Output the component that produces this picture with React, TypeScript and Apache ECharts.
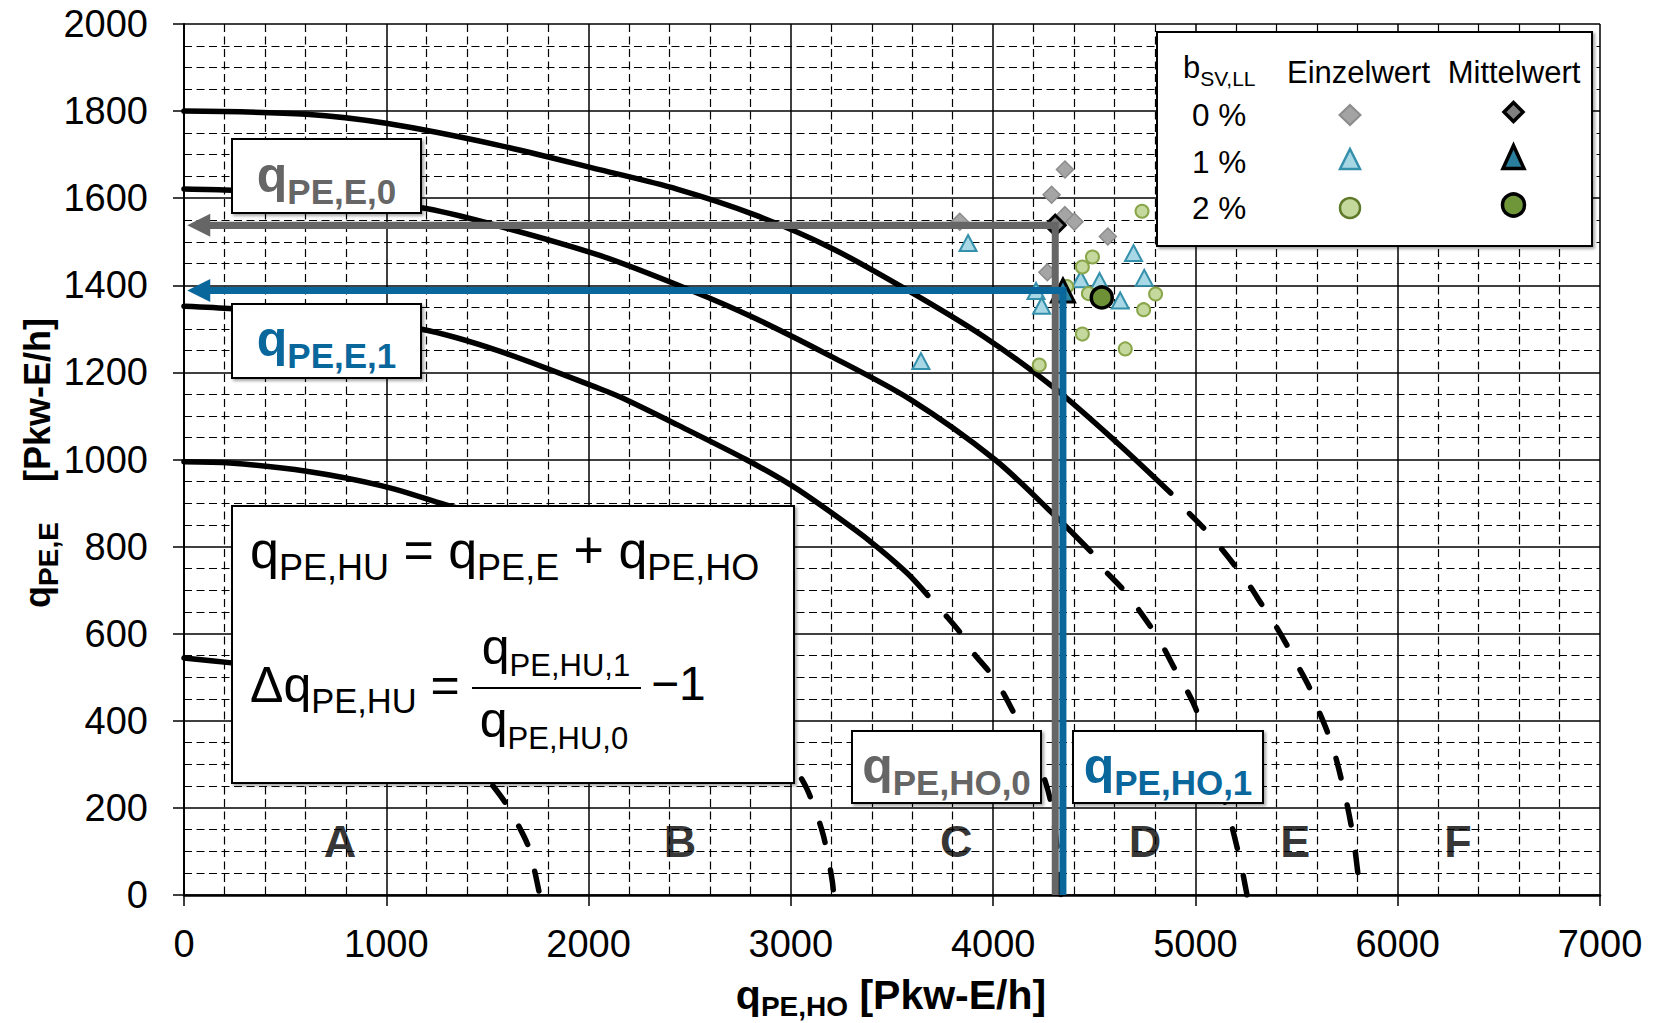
import React, { useEffect, useRef } from "react";
import * as echarts from "echarts";

// ---------------- data ----------------
const xRange = [0, 7000];
const yRange = [0, 2000];
const xTickStep = 1000;
const yTickStep = 200;

// boundary curves between the quality levels (solid part, dashed continuation)
const curveEF_solid = [[0,1800],[605,1793],[1000,1772],[1552,1722],[2059,1665],[2437,1621],[2815,1563],[3194,1487],[3572,1390],[3951,1283],[4300,1165],[4614,1038],[4878,923]];
const curveEF_dashed = [[4878,923],[4960,881],[5040,843],[5118,801],[5197,755],[5264,713],[5328,667],[5393,621],[5451,575],[5508,525],[5565,475],[5608,425],[5652,375],[5690,322],[5720,268],[5745,218],[5771,157],[5788,107],[5803,50],[5815,0]];
const curveDE_solid = [[0,1621],[240,1618],[700,1603],[1174,1578],[1500,1543],[2059,1468],[2513,1387],[2815,1326],[3194,1238],[3590,1138],[4008,1000],[4292,877],[4482,789]];
const curveDE_dashed = [[4482,789],[4549,747],[4636,705],[4707,663],[4777,617],[4839,571],[4891,525],[4952,475],[5004,425],[5090,300],[5174,168],[5205,111],[5232,55],[5255,0]];
const curveCD_solid = [[0,1352],[240,1346],[700,1325],[1174,1299],[1552,1250],[2059,1162],[2173,1140],[2437,1080],[2778,1000],[3005,940],[3194,880],[3384,815],[3573,740],[3677,688]];
const curveCD_dashed = [[3677,688],[3762,644],[3838,602],[3904,555],[3980,513],[4046,467],[4099,421],[4180,350],[4240,285],[4283,218],[4308,140],[4325,70],[4335,0]];
const curveBC_solid = [[0,995],[227,992],[606,973],[984,939],[1287,897],[1530,862],[1810,797],[2060,737],[2370,652],[2650,546],[2730,505]];
const curveBC_dashed = [[2730,505],[2850,447],[2950,372],[3020,295],[3080,243],[3123,192],[3160,138],[3185,84],[3205,31],[3212,0]];
const curveAB_solid = [[0,544],[236,533],[480,522],[840,472],[1130,403],[1300,355],[1440,300]];
const curveAB_dashed = [[1440,300],[1505,264],[1590,211],[1647,165],[1703,111],[1732,58],[1755,8],[1758,0]];

// single values (Einzelwert) and means (Mittelwert) for b_SV,LL = 0 %, 1 %, 2 %
const einzel0 = [[3835,1546],[4289,1608],[4355,1666],[4355,1561],[4402,1546],[4567,1512],[4268,1430]];
const einzel1 = [[3876,1497],[3643,1226],[4694,1474],[4747,1417],[4433,1414],[4526,1410],[4628,1365],[4212,1387],[4240,1353]];
const einzel2 = [[4736,1570],[4491,1465],[4441,1442],[4364,1397],[4471,1381],[4803,1380],[4744,1344],[4441,1288],[4653,1254],[4228,1217]];
const mittel0 = [4307, 1538];
const mittel1 = [4345, 1388];
const mittel2 = [4537, 1372];
const arrowEndX = 73;

const regionLetters = ["A", "B", "C", "D", "E", "F"];
const regionLetterX = [771, 2452, 3818, 4751, 5493, 6298];
const regionLetterY = 123;

const legendRows = ["0 %", "1 %", "2 %"];

// ---------------- styling ----------------
const FONT = '"Liberation Sans", Arial, Helvetica, sans-serif';
const GRAY = "#666666";
const BLUE = "#0A679C";
const DASH = [20, 28];
const CB = 0.3465; // central -> alphabetic baseline (em)

// main token aligned to line top, subscript token aligned to line bottom
function richSpec(mainFs: number, subFs: number, drop: number, weight: string, color: string) {
  const baseFromTop = mainFs / 2 + CB * mainFs;
  const LH = baseFromTop + drop + subFs / 2 - CB * subFs;
  return {
    baseFromTop,
    rich: {
      m: { fontSize: mainFs, lineHeight: LH, verticalAlign: "top", fontWeight: weight, fontFamily: FONT, fill: color, color },
      s: { fontSize: subFs, lineHeight: subFs, verticalAlign: "bottom", fontWeight: weight, fontFamily: FONT, fill: color, color },
    },
  };
}

function richText(x: number, baseline: number, text: string, spec: any, align: string, z = 101) {
  return {
    type: "text",
    x,
    y: baseline - spec.baseFromTop,
    z,
    style: { text, rich: spec.rich, align, verticalAlign: "top", textAlign: align, textVerticalAlign: "top" },
  };
}

function plainText(x: number, baseline: number, text: string, fs: number, align: string, weight = "normal", color = "#000", z = 101) {
  return {
    type: "text",
    x,
    y: baseline - CB * fs,
    z,
    style: {
      text, fontSize: fs, fontFamily: FONT, fontWeight: weight, fill: color,
      align, verticalAlign: "middle", textAlign: align, textVerticalAlign: "middle",
    },
  };
}

function box(x: number, y: number, w: number, h: number) {
  return {
    type: "rect", z: 100,
    shape: { x, y, width: w, height: h },
    style: { fill: "#fff", stroke: "#000", lineWidth: 2, shadowBlur: 3, shadowOffsetX: 2, shadowOffsetY: 2, shadowColor: "rgba(0,0,0,0.35)" },
  };
}

function diamond(cx: number, cy: number, w: number, h: number, fill: string, stroke: string, lw: number) {
  return { type: "polygon", z: 102, shape: { points: [[cx, cy - h / 2], [cx + w / 2, cy], [cx, cy + h / 2], [cx - w / 2, cy]] }, style: { fill, stroke, lineWidth: lw } };
}
function triangle(cx: number, cy: number, w: number, h: number, fill: string, stroke: string, lw: number) {
  return { type: "polygon", z: 102, shape: { points: [[cx, cy - h / 2], [cx + w / 2, cy + h / 2], [cx - w / 2, cy + h / 2]] }, style: { fill, stroke, lineWidth: lw } };
}
function circle(cx: number, cy: number, r: number, fill: string, stroke: string, lw: number) {
  return { type: "circle", z: 102, shape: { cx, cy, r }, style: { fill, stroke, lineWidth: lw } };
}

function curveSeries(data: number[][], dashed: boolean) {
  return {
    type: "line", data, symbol: "none", showSymbol: false, smooth: 0.3, silent: true, z: 2,
    lineStyle: { color: "#000", width: 5.5, type: dashed ? DASH : "solid", cap: "round", dashOffset: dashed ? 20 : 0 },
  };
}

function meanLineSeries(mean: number[], color: string) {
  return {
    type: "line", silent: true, z: 5, symbol: "none", showSymbol: false,
    data: [[arrowEndX, mean[1]], mean, [mean[0], 0]],
    lineStyle: { color, width: 7, join: "miter", cap: "butt" },
    markLine: {
      silent: true, symbol: ["none", "triangle"], symbolSize: 23,
      label: { show: false },
      lineStyle: { color, width: 7, type: "solid" },
      data: [[{ coord: mean }, { coord: [arrowEndX, mean[1]] }]],
    },
  };
}

export default function App() {
  const ref = useRef<HTMLDivElement>(null);
  useEffect(() => {
    document.body.style.margin = "0";
    document.body.style.overflow = "hidden";
    const chart = echarts.init(ref.current!, null, { renderer: "svg" });

    const option: any = {
      animation: false,
      textStyle: { fontFamily: FONT },
      grid: { left: 184, right: 55, top: 24, bottom: 128, containLabel: false },
      legend: { show: false },
      xAxis: {
        type: "value", min: xRange[0], max: xRange[1], interval: xTickStep,
        axisLine: { show: true, onZero: false, lineStyle: { color: "#000", width: 2.5 } },
        axisTick: { show: true, inside: false, length: 11, lineStyle: { color: "#000", width: 1.5 } },
        axisLabel: { fontSize: 38, color: "#000", margin: 30, fontFamily: FONT, formatter: (v: number) => String(v) },
        splitLine: { show: true, lineStyle: { color: "#000", width: 1.5 } },
        minorTick: { show: false, splitNumber: 5 },
        minorSplitLine: { show: true, lineStyle: { color: "#000", width: 1.2, type: [8, 4.5] } },
      },
      yAxis: {
        type: "value", min: yRange[0], max: yRange[1], interval: yTickStep,
        axisLine: { show: true, onZero: false, lineStyle: { color: "#000", width: 2 } },
        axisTick: { show: true, inside: false, length: 11, lineStyle: { color: "#000", width: 1.5 } },
        axisLabel: { fontSize: 38, color: "#000", margin: 36, fontFamily: FONT, formatter: (v: number) => String(v) },
        splitLine: { show: true, lineStyle: { color: "#000", width: 1.5 } },
        minorTick: { show: false, splitNumber: 4 },
        minorSplitLine: { show: true, lineStyle: { color: "#000", width: 1.2, type: [8, 4.5] } },
      },
      series: [
        curveSeries(curveEF_solid, false), curveSeries(curveEF_dashed, true),
        curveSeries(curveDE_solid, false), curveSeries(curveDE_dashed, true),
        curveSeries(curveCD_solid, false), curveSeries(curveCD_dashed, true),
        curveSeries(curveBC_solid, false), curveSeries(curveBC_dashed, true),
        curveSeries(curveAB_solid, false), curveSeries(curveAB_dashed, true),
        { name: "0 % Einzelwert", type: "scatter", z: 3, data: einzel0, symbol: "diamond", symbolSize: 17,
          itemStyle: { color: "#A5A5A5", borderColor: "#8C8C8C", borderWidth: 1.5, opacity: 1 } },
        { name: "1 % Einzelwert", type: "scatter", z: 3, data: einzel1, symbol: "triangle", symbolSize: [17, 16],
          itemStyle: { color: "#A8D8E5", borderColor: "#3590AC", borderWidth: 2, opacity: 1 } },
        { name: "2 % Einzelwert", type: "scatter", z: 3, data: einzel2, symbol: "circle", symbolSize: 13,
          itemStyle: { color: "#C5D99E", borderColor: "#8AA64A", borderWidth: 2, opacity: 1 } },
        { name: "0 % Mittelwert", type: "scatter", z: 4, data: [mittel0], symbol: "diamond", symbolSize: 20,
          itemStyle: { color: "#808080", borderColor: "#000", borderWidth: 3, opacity: 1 } },
        { name: "1 % Mittelwert", type: "scatter", z: 4, data: [mittel1], symbol: "triangle", symbolSize: 23,
          itemStyle: { color: "#2D86A3", borderColor: "#000", borderWidth: 3, opacity: 1 } },
        { name: "2 % Mittelwert", type: "scatter", z: 4, data: [mittel2], symbol: "circle", symbolSize: 21,
          itemStyle: { color: "#6E9138", borderColor: "#000", borderWidth: 3.5, opacity: 1 } },
        meanLineSeries(mittel0, GRAY),
        meanLineSeries(mittel1, BLUE),
        { type: "scatter", z: 6, silent: true, symbolSize: 0,
          data: regionLetters.map((n, i) => ({ name: n, value: [regionLetterX[i], regionLetterY] })),
          label: { show: true, position: "inside", formatter: "{b}", fontSize: 45, fontWeight: "bold", color: "#000", fontFamily: FONT } },
      ],
    };
    chart.setOption(option);

    // ----- annotations -----
    const els: any[] = [];
    const grayLbl = richSpec(50, 35, 12, "bold", GRAY);
    const blueLbl = richSpec(50, 35, 12, "bold", BLUE);
    els.push(box(232, 139, 189, 74), richText(326.5, 192, "{m|q}{s|PE,E,0}", grayLbl, "center"));
    els.push(box(232, 304, 189, 74), richText(326.5, 356, "{m|q}{s|PE,E,1}", blueLbl, "center"));
    els.push(box(852, 731, 189, 72), richText(946.5, 783, "{m|q}{s|PE,HO,0}", grayLbl, "center"));
    els.push(box(1073, 731, 190, 72), richText(1168, 783, "{m|q}{s|PE,HO,1}", blueLbl, "center"));

    // formula box
    els.push(box(232, 506, 562, 277));
    const f0 = richSpec(52, 36, 11, "normal", "#000");
    els.push(richText(250, 568.5, "{m|q}{s|PE,HU}{m| = q}{s|PE,E}{m| + q}{s|PE,HO}", f0, "left"));
    const f1 = richSpec(50, 34.5, 11, "normal", "#000");
    els.push(richText(250, 702, "{m|Δq}{s|PE,HU}{m| =}", f1, "left"));
    const f2 = richSpec(50, 31, 12, "normal", "#000");
    els.push(richText(556, 664.5, "{m|q}{s|PE,HU,1}", f2, "center"));
    els.push(richText(554, 737.5, "{m|q}{s|PE,HU,0}", f2, "center"));
    els.push({ type: "line", z: 101, shape: { x1: 472, y1: 688, x2: 641, y2: 688 }, style: { stroke: "#000", lineWidth: 2 } });
    els.push(plainText(651, 700, "−1", 48, "left"));

    // legend
    els.push({ type: "rect", z: 100, shape: { x: 1157, y: 32, width: 435, height: 214 }, style: { fill: "#fff", stroke: "#000", lineWidth: 2, shadowBlur: 3, shadowOffsetX: 2, shadowOffsetY: 2, shadowColor: "rgba(0,0,0,0.35)" } });
    els.push(richText(1183, 78, "{m|b}{s|SV,LL}", richSpec(31, 21, 8, "normal", "#000"), "left"));
    els.push(plainText(1358.5, 83, "Einzelwert", 31, "center"));
    els.push(plainText(1514, 83, "Mittelwert", 31, "center"));
    const rowBase = [126, 173, 219];
    legendRows.forEach((t, i) => els.push(plainText(1192, rowBase[i], t, 31.5, "left")));
    els.push(diamond(1350, 115, 21, 20, "#A3A3A3", "#8C8C8C", 2));
    els.push(diamond(1513.5, 112, 19, 19, "#7F7F7F", "#000", 3.5));
    els.push(triangle(1350, 159, 20, 20, "#A8D7E4", "#3590AC", 2.5));
    els.push(triangle(1513.5, 157, 21, 23, "#2A7F9C", "#000", 3.5));
    els.push(circle(1350, 208, 10, "#C4D89C", "#5E7A28", 2.5));
    els.push(circle(1513.5, 205, 11, "#6F9639", "#000", 3.5));

    // axis titles
    const xt = richSpec(41, 28, 7, "bold", "#000");
    els.push(richText(891, 1009, "{m|q}{s|PE,HO}{m| [Pkw-E/h]}", xt, "center"));
    const yt = richSpec(36, 28, 8, "bold", "#000");
    els.push({
      type: "text", x: 50 - yt.baseFromTop, y: 463, rotation: Math.PI / 2, z: 101,
      style: { text: "{m|q}{s|PE,E}{m|    [Pkw-E/h]}", rich: yt.rich, align: "center", verticalAlign: "top", textAlign: "center", textVerticalAlign: "top" },
    });

    chart.setOption({ graphic: { elements: els } });
    return () => chart.dispose();
  }, []);
  return <div ref={ref} style={{ width: 1655, height: 1023 }} />;
}
